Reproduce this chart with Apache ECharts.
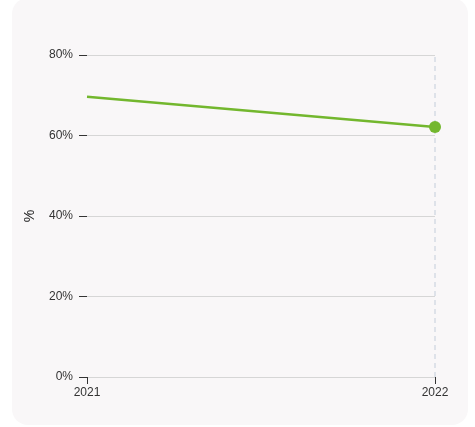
<!DOCTYPE html>
<html><head><meta charset="utf-8">
<script src="https://cdn.jsdelivr.net/npm/echarts@6/dist/echarts.min.js"></script>
<style>html,body{margin:0;padding:0;background:#fff}#c{width:475px;height:427px}</style>
</head><body><div id="c"></div>
<script>
const categories = ['2021', '2022'];
const values = [69.6, 62.1];
const yTicks = [0, 20, 40, 60, 80];

const FONT = '"Liberation Sans", Arial, sans-serif';
const chart = echarts.init(document.getElementById('c'), null, {renderer: 'canvas'});
chart.setOption({
  backgroundColor: '#ffffff',
  animation: false,
  graphic: [{
    type: 'rect', z: -10, silent: true,
    shape: {x: 12, y: -2, width: 456, height: 427, r: 16},
    style: {fill: '#f9f7f8'}
  }],
  grid: {left: 87, right: 40, top: 55, bottom: 50},
  xAxis: {
    type: 'category', data: categories, boundaryGap: false,
    axisLine: {show: true, lineStyle: {color: '#d6d6d6', width: 1}},
    axisTick: {show: true, alignWithLabel: true, length: 7, lineStyle: {color: '#333'}},
    axisLabel: {color: '#333', fontSize: 12, fontFamily: FONT, margin: 10},
    splitLine: {show: false}
  },
  yAxis: {
    type: 'value', min: 0, max: 80, interval: 20,
    name: '%', nameLocation: 'middle', nameGap: 50, nameRotate: 90,
    nameTextStyle: {color: '#222', fontSize: 14, fontFamily: FONT},
    axisLine: {show: false},
    axisTick: {show: true, length: 8, lineStyle: {color: '#333'}},
    axisLabel: {color: '#333', fontSize: 12, fontFamily: FONT, margin: 14,
      formatter: v => yTicks.includes(v) ? v + '%' : ''},
    splitLine: {show: true, lineStyle: {color: '#d6d6d6', width: 1}}
  },
  series: [{
    type: 'line', z: 1,
    data: [],
    markLine: {
      silent: true, symbol: 'none', label: {show: false},
      lineStyle: {color: '#d5dbe3', type: [5, 4], width: 1.5},
      data: [{xAxis: categories[categories.length - 1]}]
    }
  }, {
    type: 'line', z: 5,
    data: values.map((v, i) => ({
      value: v,
      symbol: i === values.length - 1 ? 'circle' : 'none',
      symbolSize: 12
    })),
    showSymbol: true,
    lineStyle: {color: '#73b72e', width: 2.5},
    itemStyle: {color: '#73b72e'}
  }]
});
</script></body></html>
